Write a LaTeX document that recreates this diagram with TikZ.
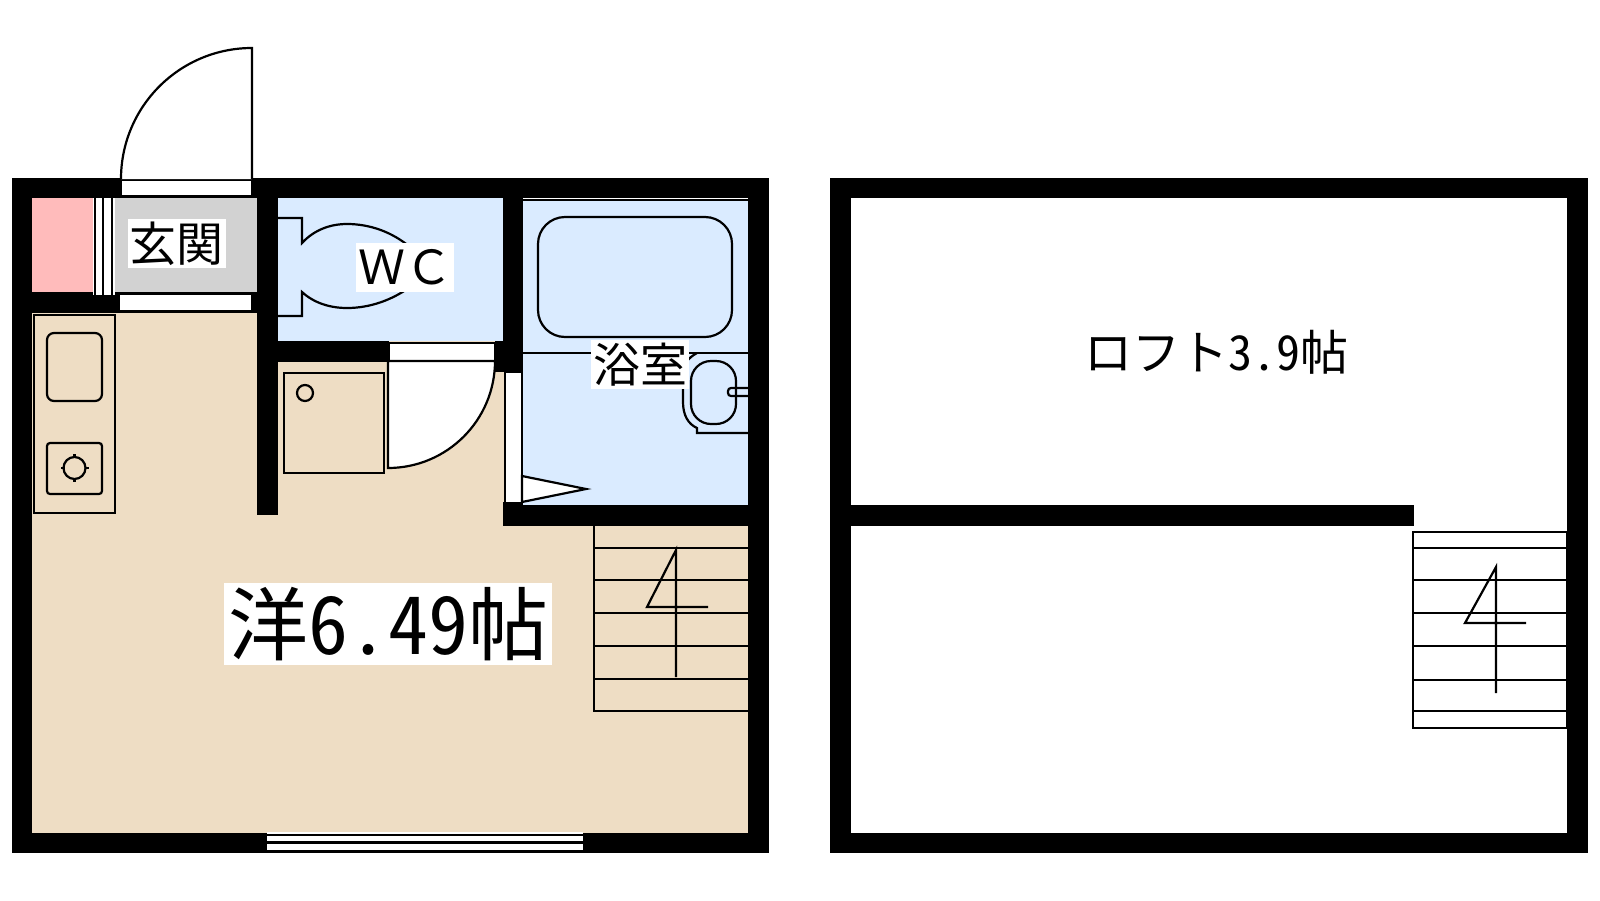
\documentclass[tikz,border=0pt]{standalone}
\usepackage{fontspec}
\newfontfamily\jpfont[RawFeature=+hwid]{Noto Sans CJK JP}
\newfontfamily\jpwide{Noto Sans CJK JP}
\definecolor{floorbeige}{HTML}{EEDDC4}
\definecolor{wetblue}{HTML}{DAEBFF}
\definecolor{closetpink}{HTML}{FFBBBB}
\definecolor{entrygray}{HTML}{D2D2D2}
\usetikzlibrary{positioning}

\begin{document}
\begin{tikzpicture}[x=1pt,y=-1pt,line width=2.2pt,
                    wall/.style={fill=black,draw=none},
                    opening/.style={fill=white,draw=black},
                    fitting/.style={draw=black},
                    small label/.style={fill=white,inner sep=0pt,minimum width=98pt,minimum height=49pt,font=\jpwide\fontsize{47}{49}\selectfont},
                    big label/.style={fill=white,inner sep=0pt,minimum width=328pt,minimum height=82pt,font=\jpfont\fontsize{80}{82}\selectfont},
                    loft label/.style={inner sep=0pt,font=\jpfont\fontsize{48}{50}\selectfont}]
  \useasboundingbox (0,0) rectangle (1600,900);

  % left plan
  \fill[wall] (12,178) rectangle (769,853);
  \fill[floorbeige] (32,313) rectangle (748,833);
  \fill[closetpink] (32,198) rectangle (93,292);
  \fill[entrygray] (115,198) rectangle (257,292);
  \fill[wetblue] (278,198) rectangle (503,341);
  \fill[wetblue] (523,200) rectangle (748,505);
  \fill[wall] (12,292) rectangle (119,313);
  \fill[wall] (252,292) rectangle (278,313);
  \fill[wall] (257,198) rectangle (278,515);
  \fill[wall] (278,341) rectangle (389,362);
  \fill[wall] (495,341) rectangle (523,372);
  \fill[wall] (503,178) rectangle (523,372);
  \fill[wall] (503,502) rectangle (523,526);
  \fill[wall] (523,505) rectangle (769,526);

  % shoe closet
  \fill[white] (93,198) rectangle (115,295);
  \foreach \foldx in {95,103,112}
    \draw (\foldx,198) -- (\foldx,295);

  % door openings
  \draw[opening] (121,180) rectangle (252,196);
  \draw[opening] (119,294) rectangle (252,311);
  \draw[opening] (389,343) rectangle (495,361);
  \draw[opening] (505,372) rectangle (522,503);
  \draw[opening] (121,179) arc (180:270:131) -- (252,179);
  \draw[opening] (388,361) -- (388,468) arc (90:0:107) -- cycle;
  \draw[opening] (522,476) -- (586,489) -- (522,502) -- cycle;

  % window
  \fill[white] (267,832) rectangle (583,833.5);
  \fill[white] (267,836) rectangle (583,841);
  \fill[white] (267,844) rectangle (583,850);

  % kitchen
  \draw[fitting] (34,315) rectangle (115,513);
  \draw[fitting,rounded corners=7pt] (47,333) rectangle (102,401);
  \draw[fitting,rounded corners=3pt] (47,443) rectangle (102,494);
  \draw[fitting] (74.5,468) circle (11);
  \foreach \ang in {0,90,180,270}
    \draw[fitting] (74.5,468) ++(\ang:10) -- ++(\ang:4);

  % washing machine place
  \draw[fitting] (284,373) rectangle (384,473);
  \draw[fitting] (305,393) circle (8);

  % toilet
  \draw[fitting] (278,218) -- (302,218) -- (302,243)
    .. controls (314,230) and (330,224) .. (347,224)
    .. controls (370,224) and (392,232) .. (410,247);
  \draw[fitting] (278,316) -- (302,316) -- (302,292)
    .. controls (314,303) and (330,308) .. (347,308)
    .. controls (370,308) and (392,300) .. (410,287);

  % bath
  \draw[white,line width=0.8pt] (523,198.4) -- (748,198.4);
  \draw[fitting] (523,200) -- (748,200);
  \draw[fitting,rounded corners=27pt] (538,217) rectangle (732,337);
  \draw[fitting] (523,353) -- (748,353);
  \draw[fitting] (748,433) -- (697,433) -- (697,428)
    .. controls (688,424) and (683,415) .. (683,402) -- (683,375)
    .. controls (683,364) and (688,358) .. (697,353);
  \draw[fitting,rounded corners=20pt] (691,361) rectangle (736,424);
  \draw[fitting,rounded corners=3pt] (728,388) rectangle (752,396);
  \fill[wall] (748,353) rectangle (769,433);

  % stairs, left plan
  \draw[fitting] (594,526) -- (594,711) -- (748,711);
  \foreach \stepy in {548,580,613,646,679}
    \draw[fitting] (594,\stepy) -- (748,\stepy);
  \draw[fitting] (676,677) -- (676,550) -- (647,607) -- (708,607);

  % labels, left plan
  \node[small label] (entry) at (176.5,243.5) {玄関};
  \node[small label] (wc) at (405,267.5) {ＷＣ};
  \node[small label] (bathroom) at (640,364.5) {浴室};
  \node[big label] (western) at (388,624) {洋6.49帖};

  % right plan
  \fill[wall] (830,178) rectangle (1588,853);
  \fill[white] (851,198) rectangle (1567,833);
  \fill[wall] (851,505) rectangle (1414,526);
  \draw[fitting] (1413,532) rectangle (1567,728);
  \foreach \stepy in {548,580,613,646,680,711}
    \draw[fitting] (1413,\stepy) -- (1567,\stepy);
  \draw[fitting] (1496,693) -- (1496,567) -- (1465,623) -- (1526,623);
  \node[loft label] (loft) at (1216,352) {ロフト3.9帖};
\end{tikzpicture}
\end{document}
